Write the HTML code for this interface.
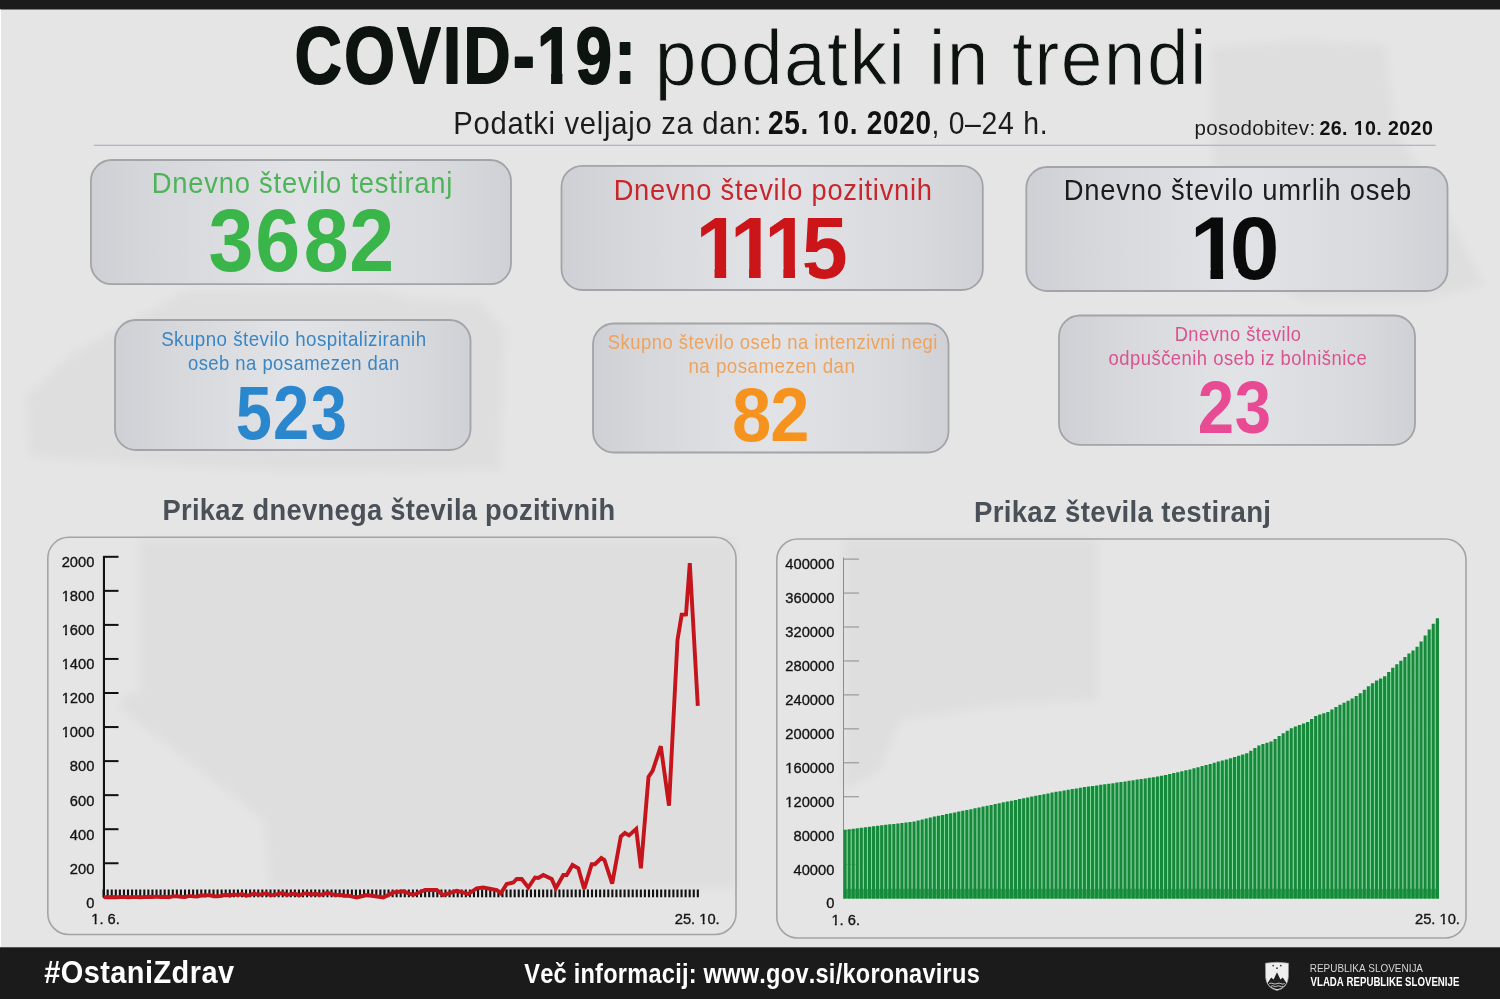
<!DOCTYPE html>
<html lang="sl"><head><meta charset="utf-8"><title>COVID-19: podatki in trendi</title>
<style>
html,body{margin:0;padding:0;background:#e5e5e5;}
body{width:1500px;height:999px;overflow:hidden;}
svg{display:block;font-family:'Liberation Sans', Arial, sans-serif;font-kerning:none;}
</style></head><body>
<svg width="1500" height="999" viewBox="0 0 1500 999">
<defs>
<filter id="blur" x="-5%" y="-5%" width="110%" height="110%"><feGaussianBlur stdDeviation="4"/></filter>
<clipPath id="nf1" clipPathUnits="userSpaceOnUse"><rect x="274.83" y="-13.05" width="383.55" height="86.05"/><rect x="274.83" y="86.40" width="383.55" height="80.38"/><rect x="274.83" y="72.90" width="264.15" height="13.60"/><rect x="551.11" y="72.90" width="11.23" height="13.60"/><rect x="573.65" y="72.90" width="84.74" height="13.60"/></clipPath>
<clipPath id="nf2" clipPathUnits="userSpaceOnUse"><rect x="747.93" y="95.10" width="203.91" height="34.48"/><rect x="747.93" y="136.10" width="203.91" height="32.50"/><rect x="747.93" y="129.48" width="70.01" height="6.72"/><rect x="823.75" y="129.48" width="4.14" height="6.72"/><rect x="833.36" y="129.48" width="118.48" height="6.72"/></clipPath>
<clipPath id="nf3" clipPathUnits="userSpaceOnUse"><rect x="1299.52" y="110.14" width="153.67" height="21.09"/><rect x="1299.52" y="136.50" width="153.67" height="20.30"/><rect x="1299.52" y="131.13" width="54.29" height="5.47"/><rect x="1358.20" y="131.13" width="2.99" height="5.47"/><rect x="1365.33" y="131.13" width="87.86" height="5.47"/></clipPath>
<linearGradient id="bx" x1="0" y1="0" x2="1" y2="0">
<stop offset="0" stop-color="#cfd0d5"/><stop offset="0.15" stop-color="#d6d7db"/><stop offset="0.5" stop-color="#e2e3e6"/><stop offset="0.85" stop-color="#d8d9dd"/><stop offset="1" stop-color="#d0d1d6"/>
</linearGradient>
<clipPath id="nf4" clipPathUnits="userSpaceOnUse"><rect x="0" y="164.13" width="1500" height="103.27"/><rect x="0.00" y="267.30" width="699.43" height="10.80"/><rect x="714.55" y="267.30" width="11.63" height="10.80"/><rect x="749.05" y="267.30" width="11.63" height="10.80"/><rect x="783.35" y="267.30" width="11.63" height="10.80"/><rect x="809.05" y="267.30" width="690.95" height="10.80"/><rect x="0" y="278.10" width="1500" height="87.21"/></clipPath>
<clipPath id="nf5" clipPathUnits="userSpaceOnUse"><rect x="0" y="163.07" width="1500" height="105.54"/><rect x="0.00" y="268.51" width="1194.20" height="10.99"/><rect x="1210.49" y="268.51" width="12.57" height="10.99"/><rect x="1238.23" y="268.51" width="261.77" height="10.99"/><rect x="0" y="279.50" width="1500" height="89.10"/></clipPath>
<clipPath id="nf6" clipPathUnits="userSpaceOnUse"><rect x="41.67" y="719.77" width="72.70" height="15.17"/><rect x="41.67" y="739.58" width="72.70" height="14.70"/><rect x="41.67" y="734.83" width="19.74" height="4.85"/><rect x="65.04" y="734.83" width="1.95" height="4.85"/><rect x="70.51" y="734.83" width="43.87" height="4.85"/></clipPath>
<clipPath id="nf7" clipPathUnits="userSpaceOnUse"><rect x="41.67" y="685.72" width="72.70" height="15.17"/><rect x="41.67" y="705.53" width="72.70" height="14.70"/><rect x="41.67" y="700.78" width="19.74" height="4.85"/><rect x="65.04" y="700.78" width="1.95" height="4.85"/><rect x="70.51" y="700.78" width="43.87" height="4.85"/></clipPath>
<clipPath id="nf8" clipPathUnits="userSpaceOnUse"><rect x="41.67" y="651.67" width="72.70" height="15.17"/><rect x="41.67" y="671.48" width="72.70" height="14.70"/><rect x="41.67" y="666.73" width="19.74" height="4.85"/><rect x="65.04" y="666.73" width="1.95" height="4.85"/><rect x="70.51" y="666.73" width="43.87" height="4.85"/></clipPath>
<clipPath id="nf9" clipPathUnits="userSpaceOnUse"><rect x="41.67" y="617.62" width="72.70" height="15.17"/><rect x="41.67" y="637.43" width="72.70" height="14.70"/><rect x="41.67" y="632.68" width="19.74" height="4.85"/><rect x="65.04" y="632.68" width="1.95" height="4.85"/><rect x="70.51" y="632.68" width="43.87" height="4.85"/></clipPath>
<clipPath id="nf10" clipPathUnits="userSpaceOnUse"><rect x="41.67" y="583.57" width="72.70" height="15.17"/><rect x="41.67" y="603.38" width="72.70" height="14.70"/><rect x="41.67" y="598.63" width="19.74" height="4.85"/><rect x="65.04" y="598.63" width="1.95" height="4.85"/><rect x="70.51" y="598.63" width="43.87" height="4.85"/></clipPath>
<clipPath id="nf11" clipPathUnits="userSpaceOnUse"><rect x="71.24" y="906.42" width="68.60" height="15.17"/><rect x="71.24" y="926.23" width="68.60" height="14.70"/><rect x="71.24" y="921.48" width="19.74" height="4.85"/><rect x="94.61" y="921.48" width="1.95" height="4.85"/><rect x="100.07" y="921.48" width="39.77" height="4.85"/></clipPath>
<clipPath id="nf12" clipPathUnits="userSpaceOnUse"><rect x="654.79" y="905.92" width="84.95" height="15.17"/><rect x="654.79" y="925.73" width="84.95" height="14.70"/><rect x="654.79" y="920.98" width="44.26" height="4.85"/><rect x="702.68" y="920.98" width="1.95" height="4.85"/><rect x="708.14" y="920.98" width="31.60" height="4.85"/></clipPath>
<clipPath id="nf13" clipPathUnits="userSpaceOnUse"><rect x="765.32" y="788.97" width="89.05" height="15.17"/><rect x="765.32" y="808.78" width="89.05" height="14.70"/><rect x="765.32" y="804.03" width="19.74" height="4.85"/><rect x="788.69" y="804.03" width="1.95" height="4.85"/><rect x="794.15" y="804.03" width="60.22" height="4.85"/></clipPath>
<clipPath id="nf14" clipPathUnits="userSpaceOnUse"><rect x="765.32" y="755.02" width="89.05" height="15.17"/><rect x="765.32" y="774.83" width="89.05" height="14.70"/><rect x="765.32" y="770.08" width="19.74" height="4.85"/><rect x="788.69" y="770.08" width="1.95" height="4.85"/><rect x="794.15" y="770.08" width="60.22" height="4.85"/></clipPath>
<clipPath id="nf15" clipPathUnits="userSpaceOnUse"><rect x="811.44" y="907.82" width="68.60" height="15.17"/><rect x="811.44" y="927.63" width="68.60" height="14.70"/><rect x="811.44" y="922.88" width="19.74" height="4.85"/><rect x="834.81" y="922.88" width="1.95" height="4.85"/><rect x="840.27" y="922.88" width="39.77" height="4.85"/></clipPath>
<clipPath id="nf16" clipPathUnits="userSpaceOnUse"><rect x="1394.99" y="906.82" width="84.95" height="15.17"/><rect x="1394.99" y="926.63" width="84.95" height="14.70"/><rect x="1394.99" y="921.88" width="44.26" height="4.85"/><rect x="1442.88" y="921.88" width="1.95" height="4.85"/><rect x="1448.34" y="921.88" width="31.60" height="4.85"/></clipPath>
</defs>
<rect x="0" y="0" width="1500" height="999" fill="#e5e5e5"/>
<g fill="#000" fill-opacity="0.03" filter="url(#blur)"><polygon points="27,406 25,398 74,353 165,303 186,291 372,290 413,299 480,302 505,330 500,470 300,472 110,462 30,456"/><polygon points="1211,48 1300,40 1385,45 1395,130 1440,200 1484,285 1420,300 1300,300 1215,250"/><polygon points="140,540 735,540 735,888 270,888 264,820 120,708 120,700 140,690"/><polygon points="844,540 1097,540 1097,700 1000,705 900,720 880,770 844,790"/></g>
<rect x="0" y="0" width="1500" height="9.5" fill="#1b1b1b"/>
<rect x="0" y="9.5" width="1" height="938" fill="#ffffff"/>
<rect x="0" y="947.3" width="1500" height="52" fill="#1b1b1b"/>
<text x="294.83" y="83.40" font-size="80.38" fill="#0d140f" font-weight="bold" letter-spacing="3.00" textLength="343.55" lengthAdjust="spacingAndGlyphs" stroke="#0d140f" stroke-width="2.0" stroke-linejoin="round" clip-path="url(#nf1)">COVID-19:</text>
<text x="654.67" y="84.50" font-size="78.50" fill="#0d140f" letter-spacing="1.50" textLength="553.51" lengthAdjust="spacingAndGlyphs" stroke="#e5e5e5" stroke-width="0.9" stroke-linejoin="round">podatki in trendi</text>
<text x="453.31" y="134.10" font-size="32.00" fill="#1c1c1c" letter-spacing="0.80" textLength="308.69" lengthAdjust="spacingAndGlyphs">Podatki veljajo za dan:</text>
<text x="767.93" y="134.10" font-size="32.50" fill="#111111" font-weight="bold" letter-spacing="0.80" textLength="163.91" lengthAdjust="spacingAndGlyphs" clip-path="url(#nf2)">25. 10. 2020</text>
<text x="931.45" y="134.10" font-size="32.00" fill="#1c1c1c" letter-spacing="0.80" textLength="116.85" lengthAdjust="spacingAndGlyphs">, 0–24 h.</text>
<text x="1194.38" y="134.50" font-size="20.30" fill="#1c1c1c" letter-spacing="0.40" textLength="121.20" lengthAdjust="spacingAndGlyphs">posodobitev:</text>
<text x="1319.52" y="134.50" font-size="20.30" fill="#111111" font-weight="bold" letter-spacing="0.40" textLength="113.67" lengthAdjust="spacingAndGlyphs" clip-path="url(#nf3)">26. 10. 2020</text>
<rect x="93.8" y="144.7" width="1341.7" height="1.2" fill="#a9b4bf"/>
<rect x="90.9" y="160.0" width="420.1" height="124.2" rx="21" ry="21" fill="url(#bx)" stroke="#a3a4a7" stroke-width="1.8"/>
<rect x="561.5" y="165.8" width="421.3" height="124.2" rx="21" ry="21" fill="url(#bx)" stroke="#a3a4a7" stroke-width="1.8"/>
<rect x="1026.3" y="167.0" width="421.2" height="124.0" rx="21" ry="21" fill="url(#bx)" stroke="#a3a4a7" stroke-width="1.8"/>
<rect x="115.0" y="320.0" width="355.5" height="130.0" rx="21" ry="21" fill="url(#bx)" stroke="#a3a4a7" stroke-width="1.8"/>
<rect x="593.0" y="323.5" width="355.5" height="129.0" rx="21" ry="21" fill="url(#bx)" stroke="#a3a4a7" stroke-width="1.8"/>
<rect x="1059.0" y="315.5" width="356.0" height="129.3" rx="21" ry="21" fill="url(#bx)" stroke="#a3a4a7" stroke-width="1.8"/>
<text x="151.75" y="193.40" font-size="29.20" fill="#4db45a" letter-spacing="0.80" textLength="301.35" lengthAdjust="spacingAndGlyphs">Dnevno število testiranj</text>
<text transform="translate(0 271.30) scale(0.9010 1)" x="231.47 283.19 337.16 387.66" y="0" font-size="89.68" font-weight="bold" fill="#3ab54a">3682</text>
<text x="613.66" y="199.50" font-size="29.20" fill="#c8262c" letter-spacing="0.80" textLength="319.06" lengthAdjust="spacingAndGlyphs">Dnevno število pozitivnih</text>
<g clip-path="url(#nf4)"><text transform="translate(0 277.50) scale(0.9469 1)" x="734.45 770.89 807.11 846.60" y="0" font-size="87.21" font-weight="bold" fill="#cc1518">1115</text></g>
<text x="1063.85" y="200.10" font-size="29.60" fill="#1c1c1c" letter-spacing="0.80" textLength="348.24" lengthAdjust="spacingAndGlyphs">Dnevno število umrlih oseb</text>
<g clip-path="url(#nf5)"><text transform="translate(0 278.90) scale(1.0039 1)" x="1185.12 1225.09" y="0" font-size="89.10" font-weight="bold" fill="#0a0a0a">10</text></g>
<text x="161.15" y="345.90" font-size="20.40" fill="#3a86c3" letter-spacing="0.50" textLength="265.43" lengthAdjust="spacingAndGlyphs">Skupno število hospitaliziranih</text>
<text x="187.92" y="370.40" font-size="20.40" fill="#3a86c3" letter-spacing="0.50" textLength="211.83" lengthAdjust="spacingAndGlyphs">oseb na posamezen dan</text>
<text transform="translate(0 438.50) scale(0.8574 1)" x="274.99 318.46 362.32" y="0" font-size="75.87" font-weight="bold" fill="#2b87cd">523</text>
<text x="607.86" y="349.10" font-size="20.80" fill="#eca35f" letter-spacing="0.50" textLength="330.03" lengthAdjust="spacingAndGlyphs">Skupno število oseb na intenzivni negi</text>
<text x="688.45" y="373.30" font-size="20.80" fill="#eca35f" letter-spacing="0.50" textLength="166.92" lengthAdjust="spacingAndGlyphs">na posamezen dan</text>
<text transform="translate(0 441.20) scale(0.9225 1)" x="793.58 835.02" y="0" font-size="76.45" font-weight="bold" fill="#f6931f">82</text>
<text x="1174.70" y="340.90" font-size="19.30" fill="#da5290" letter-spacing="0.50" textLength="126.64" lengthAdjust="spacingAndGlyphs">Dnevno število</text>
<text x="1108.53" y="364.80" font-size="19.30" fill="#da5290" letter-spacing="0.50" textLength="258.77" lengthAdjust="spacingAndGlyphs">odpuščenih oseb iz bolnišnice</text>
<text transform="translate(0 432.70) scale(0.8741 1)" x="1370.38 1412.71" y="0" font-size="74.71" font-weight="bold" fill="#e84a93">23</text>
<text x="162.57" y="519.60" font-size="29.20" fill="#4a5057" font-weight="bold" letter-spacing="0.30" textLength="452.80" lengthAdjust="spacingAndGlyphs">Prikaz dnevnega števila pozitivnih</text>
<text x="973.95" y="521.90" font-size="29.00" fill="#4a5057" font-weight="bold" letter-spacing="0.30" textLength="297.38" lengthAdjust="spacingAndGlyphs">Prikaz števila testiranj</text>
<rect x="47.8" y="537.3" width="688.2" height="397.2" rx="21" ry="21" fill="none" stroke="#a4a4a4" stroke-width="1.6"/>
<rect x="776.8" y="539.0" width="689.2" height="399.0" rx="21" ry="21" fill="none" stroke="#a4a4a4" stroke-width="1.6"/>
<text x="86.20" y="907.66" font-size="14.70" fill="#151515" stroke="#151515" stroke-width="0.35" stroke-linejoin="round">0</text>
<text x="69.85" y="873.61" font-size="14.70" fill="#151515" stroke="#151515" stroke-width="0.35" stroke-linejoin="round">200</text>
<rect x="103" y="862.25" width="15.5" height="2" fill="#111"/>
<text x="69.85" y="839.56" font-size="14.70" fill="#151515" stroke="#151515" stroke-width="0.35" stroke-linejoin="round">400</text>
<rect x="103" y="828.20" width="15.5" height="2" fill="#111"/>
<text x="69.85" y="805.51" font-size="14.70" fill="#151515" stroke="#151515" stroke-width="0.35" stroke-linejoin="round">600</text>
<rect x="103" y="794.15" width="15.5" height="2" fill="#111"/>
<text x="69.85" y="771.46" font-size="14.70" fill="#151515" stroke="#151515" stroke-width="0.35" stroke-linejoin="round">800</text>
<rect x="103" y="760.10" width="15.5" height="2" fill="#111"/>
<text x="61.67" y="737.41" font-size="14.70" fill="#151515" stroke="#151515" stroke-width="0.35" stroke-linejoin="round" clip-path="url(#nf6)">1000</text>
<rect x="103" y="726.05" width="15.5" height="2" fill="#111"/>
<text x="61.67" y="703.36" font-size="14.70" fill="#151515" stroke="#151515" stroke-width="0.35" stroke-linejoin="round" clip-path="url(#nf7)">1200</text>
<rect x="103" y="692.00" width="15.5" height="2" fill="#111"/>
<text x="61.67" y="669.31" font-size="14.70" fill="#151515" stroke="#151515" stroke-width="0.35" stroke-linejoin="round" clip-path="url(#nf8)">1400</text>
<rect x="103" y="657.95" width="15.5" height="2" fill="#111"/>
<text x="61.67" y="635.26" font-size="14.70" fill="#151515" stroke="#151515" stroke-width="0.35" stroke-linejoin="round" clip-path="url(#nf9)">1600</text>
<rect x="103" y="623.90" width="15.5" height="2" fill="#111"/>
<text x="61.67" y="601.21" font-size="14.70" fill="#151515" stroke="#151515" stroke-width="0.35" stroke-linejoin="round" clip-path="url(#nf10)">1800</text>
<rect x="103" y="589.85" width="15.5" height="2" fill="#111"/>
<text x="61.67" y="567.16" font-size="14.70" fill="#151515" stroke="#151515" stroke-width="0.35" stroke-linejoin="round">2000</text>
<rect x="103" y="555.80" width="15.5" height="2" fill="#111"/>
<rect x="102.9" y="556.3" width="2.1" height="341.6" fill="#111"/>
<path d="M103.60 889.6V897.3 M107.67 889.6V897.3 M111.74 889.6V897.3 M115.81 889.6V897.3 M119.88 889.6V897.3 M123.95 889.6V897.3 M128.02 889.6V897.3 M132.09 889.6V897.3 M136.16 889.6V897.3 M140.23 889.6V897.3 M144.30 889.6V897.3 M148.37 889.6V897.3 M152.44 889.6V897.3 M156.51 889.6V897.3 M160.58 889.6V897.3 M164.65 889.6V897.3 M168.72 889.6V897.3 M172.79 889.6V897.3 M176.86 889.6V897.3 M180.93 889.6V897.3 M185.00 889.6V897.3 M189.07 889.6V897.3 M193.14 889.6V897.3 M197.21 889.6V897.3 M201.28 889.6V897.3 M205.35 889.6V897.3 M209.42 889.6V897.3 M213.49 889.6V897.3 M217.56 889.6V897.3 M221.63 889.6V897.3 M225.70 889.6V897.3 M229.77 889.6V897.3 M233.84 889.6V897.3 M237.91 889.6V897.3 M241.98 889.6V897.3 M246.05 889.6V897.3 M250.12 889.6V897.3 M254.19 889.6V897.3 M258.26 889.6V897.3 M262.33 889.6V897.3 M266.40 889.6V897.3 M270.47 889.6V897.3 M274.54 889.6V897.3 M278.61 889.6V897.3 M282.68 889.6V897.3 M286.75 889.6V897.3 M290.82 889.6V897.3 M294.89 889.6V897.3 M298.96 889.6V897.3 M303.03 889.6V897.3 M307.10 889.6V897.3 M311.17 889.6V897.3 M315.24 889.6V897.3 M319.31 889.6V897.3 M323.38 889.6V897.3 M327.45 889.6V897.3 M331.52 889.6V897.3 M335.59 889.6V897.3 M339.66 889.6V897.3 M343.73 889.6V897.3 M347.80 889.6V897.3 M351.87 889.6V897.3 M355.94 889.6V897.3 M360.01 889.6V897.3 M364.08 889.6V897.3 M368.15 889.6V897.3 M372.22 889.6V897.3 M376.29 889.6V897.3 M380.36 889.6V897.3 M384.43 889.6V897.3 M388.50 889.6V897.3 M392.57 889.6V897.3 M396.64 889.6V897.3 M400.71 889.6V897.3 M404.78 889.6V897.3 M408.85 889.6V897.3 M412.92 889.6V897.3 M416.99 889.6V897.3 M421.06 889.6V897.3 M425.13 889.6V897.3 M429.20 889.6V897.3 M433.27 889.6V897.3 M437.34 889.6V897.3 M441.41 889.6V897.3 M445.48 889.6V897.3 M449.55 889.6V897.3 M453.62 889.6V897.3 M457.69 889.6V897.3 M461.76 889.6V897.3 M465.83 889.6V897.3 M469.90 889.6V897.3 M473.97 889.6V897.3 M478.04 889.6V897.3 M482.11 889.6V897.3 M486.18 889.6V897.3 M490.25 889.6V897.3 M494.32 889.6V897.3 M498.39 889.6V897.3 M502.46 889.6V897.3 M506.53 889.6V897.3 M510.60 889.6V897.3 M514.67 889.6V897.3 M518.74 889.6V897.3 M522.81 889.6V897.3 M526.88 889.6V897.3 M530.95 889.6V897.3 M535.02 889.6V897.3 M539.09 889.6V897.3 M543.16 889.6V897.3 M547.23 889.6V897.3 M551.30 889.6V897.3 M555.37 889.6V897.3 M559.44 889.6V897.3 M563.51 889.6V897.3 M567.58 889.6V897.3 M571.65 889.6V897.3 M575.72 889.6V897.3 M579.79 889.6V897.3 M583.86 889.6V897.3 M587.93 889.6V897.3 M592.00 889.6V897.3 M596.07 889.6V897.3 M600.14 889.6V897.3 M604.21 889.6V897.3 M608.28 889.6V897.3 M612.35 889.6V897.3 M616.42 889.6V897.3 M620.49 889.6V897.3 M624.56 889.6V897.3 M628.63 889.6V897.3 M632.70 889.6V897.3 M636.77 889.6V897.3 M640.84 889.6V897.3 M644.91 889.6V897.3 M648.98 889.6V897.3 M653.05 889.6V897.3 M657.12 889.6V897.3 M661.19 889.6V897.3 M665.26 889.6V897.3 M669.33 889.6V897.3 M673.40 889.6V897.3 M677.47 889.6V897.3 M681.54 889.6V897.3 M685.61 889.6V897.3 M689.68 889.6V897.3 M693.75 889.6V897.3 M697.82 889.6V897.3" stroke="#111" stroke-width="2.1"/>
<path d="M103.6 897.1 L107.7 897.3 L111.7 897.0 L115.8 897.3 L119.9 897.1 L123.9 896.8 L128.0 897.3 L132.1 897.1 L136.2 897.0 L140.2 897.3 L144.3 897.1 L148.4 896.8 L152.4 897.0 L156.5 896.6 L160.6 897.0 L164.7 896.8 L168.7 897.3 L172.8 896.4 L176.9 896.3 L180.9 896.8 L185.0 897.0 L189.1 895.9 L193.1 896.4 L197.2 896.6 L201.3 895.3 L205.3 895.6 L209.4 894.9 L213.5 896.3 L217.6 896.4 L221.6 895.9 L225.7 894.6 L229.8 895.6 L233.8 894.2 L237.9 895.3 L242.0 893.9 L246.1 895.8 L250.1 894.9 L254.2 893.6 L258.3 894.8 L262.3 894.2 L266.4 893.2 L270.5 895.3 L274.5 894.6 L278.6 893.9 L282.7 892.9 L286.8 894.9 L290.8 894.2 L294.9 893.6 L299.0 895.3 L303.0 893.9 L307.1 893.2 L311.2 894.6 L315.2 893.6 L319.3 894.9 L323.4 894.2 L327.5 892.9 L331.5 893.9 L335.6 895.3 L339.7 894.6 L343.7 895.9 L347.8 895.6 L356.7 897.5 L366.7 895.0 L383.3 897.5 L393.3 892.5 L403.3 891.3 L413.3 895.0 L425.0 890.0 L436.7 890.0 L443.3 895.0 L456.7 890.8 L468.3 894.0 L476.7 888.3 L483.3 887.5 L496.7 890.0 L500.8 893.3 L506.7 884.0 L513.3 882.5 L516.7 879.0 L521.7 879.0 L528.3 887.5 L535.0 877.5 L538.3 878.0 L543.3 875.0 L551.7 879.0 L555.8 888.3 L563.3 875.0 L566.7 875.0 L572.5 865.0 L578.3 868.3 L584.2 889.0 L591.7 864.2 L595.0 864.2 L601.3 858.0 L604.4 860.0 L612.2 883.7 L620.8 836.5 L624.9 833.0 L629.0 835.4 L636.2 828.9 L640.9 868.3 L648.5 777.0 L652.6 770.8 L660.8 746.2 L669.0 805.7 L677.5 640.0 L681.7 614.7 L686.0 614.4 L689.8 563.2 L697.8 705.8" fill="none" stroke="#c5141b" stroke-width="3.9" stroke-linejoin="miter" stroke-miterlimit="3" stroke-linecap="butt"/>
<text x="91.24" y="924.06" font-size="14.70" fill="#151515" stroke="#151515" stroke-width="0.35" stroke-linejoin="round" clip-path="url(#nf11)">1. 6.</text>
<text x="674.79" y="923.56" font-size="14.70" fill="#151515" stroke="#151515" stroke-width="0.35" stroke-linejoin="round" clip-path="url(#nf12)">25. 10.</text>
<text x="826.20" y="908.46" font-size="14.70" fill="#151515" stroke="#151515" stroke-width="0.35" stroke-linejoin="round">0</text>
<text x="793.50" y="874.51" font-size="14.70" fill="#151515" stroke="#151515" stroke-width="0.35" stroke-linejoin="round">40000</text>
<rect x="843" y="864.15" width="16" height="1" fill="#8c8c8c"/>
<text x="793.50" y="840.56" font-size="14.70" fill="#151515" stroke="#151515" stroke-width="0.35" stroke-linejoin="round">80000</text>
<rect x="843" y="830.20" width="16" height="1" fill="#8c8c8c"/>
<text x="785.32" y="806.61" font-size="14.70" fill="#151515" stroke="#151515" stroke-width="0.35" stroke-linejoin="round" clip-path="url(#nf13)">120000</text>
<rect x="843" y="796.25" width="16" height="1" fill="#8c8c8c"/>
<text x="785.32" y="772.66" font-size="14.70" fill="#151515" stroke="#151515" stroke-width="0.35" stroke-linejoin="round" clip-path="url(#nf14)">160000</text>
<rect x="843" y="762.30" width="16" height="1" fill="#8c8c8c"/>
<text x="785.32" y="738.71" font-size="14.70" fill="#151515" stroke="#151515" stroke-width="0.35" stroke-linejoin="round">200000</text>
<rect x="843" y="728.35" width="16" height="1" fill="#8c8c8c"/>
<text x="785.32" y="704.76" font-size="14.70" fill="#151515" stroke="#151515" stroke-width="0.35" stroke-linejoin="round">240000</text>
<rect x="843" y="694.40" width="16" height="1" fill="#8c8c8c"/>
<text x="785.32" y="670.81" font-size="14.70" fill="#151515" stroke="#151515" stroke-width="0.35" stroke-linejoin="round">280000</text>
<rect x="843" y="660.45" width="16" height="1" fill="#8c8c8c"/>
<text x="785.32" y="636.86" font-size="14.70" fill="#151515" stroke="#151515" stroke-width="0.35" stroke-linejoin="round">320000</text>
<rect x="843" y="626.50" width="16" height="1" fill="#8c8c8c"/>
<text x="785.32" y="602.91" font-size="14.70" fill="#151515" stroke="#151515" stroke-width="0.35" stroke-linejoin="round">360000</text>
<rect x="843" y="592.55" width="16" height="1" fill="#8c8c8c"/>
<text x="785.32" y="568.96" font-size="14.70" fill="#151515" stroke="#151515" stroke-width="0.35" stroke-linejoin="round">400000</text>
<rect x="843" y="558.60" width="16" height="1" fill="#8c8c8c"/>
<rect x="843" y="557.5" width="1" height="341.1" fill="#8c8c8c"/>
<rect x="843.6" y="888.6" width="595.4" height="10.0" fill="#3fa75c"/>
<path d="M846.60 829.7V888.6h1.056V829.7z M850.66 829.2V888.6h1.056V829.2z M854.71 828.7V888.6h1.056V828.7z M858.77 828.2V888.6h1.056V828.2z M862.82 827.7V888.6h1.056V827.7z M866.88 827.2V888.6h1.056V827.2z M870.94 826.7V888.6h1.056V826.7z M874.99 826.2V888.6h1.056V826.2z M879.05 825.7V888.6h1.056V825.7z M883.10 825.2V888.6h1.056V825.2z M887.16 824.8V888.6h1.056V824.8z M891.22 824.3V888.6h1.056V824.3z M895.27 823.9V888.6h1.056V823.9z M899.33 823.4V888.6h1.056V823.4z M903.38 823.0V888.6h1.056V823.0z M907.44 822.6V888.6h1.056V822.6z M911.50 822.1V888.6h1.056V822.1z M915.55 821.4V888.6h1.056V821.4z M919.61 820.4V888.6h1.056V820.4z M923.66 819.5V888.6h1.056V819.5z M927.72 818.5V888.6h1.056V818.5z M931.78 817.6V888.6h1.056V817.6z M935.83 816.6V888.6h1.056V816.6z M939.89 815.7V888.6h1.056V815.7z M943.94 814.9V888.6h1.056V814.9z M948.00 814.1V888.6h1.056V814.1z M952.06 813.3V888.6h1.056V813.3z M956.11 812.5V888.6h1.056V812.5z M960.17 811.6V888.6h1.056V811.6z M964.22 810.8V888.6h1.056V810.8z M968.28 810.0V888.6h1.056V810.0z M972.34 809.2V888.6h1.056V809.2z M976.39 808.3V888.6h1.056V808.3z M980.45 807.5V888.6h1.056V807.5z M984.50 806.6V888.6h1.056V806.6z M988.56 805.8V888.6h1.056V805.8z M992.62 804.9V888.6h1.056V804.9z M996.67 804.0V888.6h1.056V804.0z M1000.73 803.2V888.6h1.056V803.2z M1004.78 802.3V888.6h1.056V802.3z M1008.84 801.5V888.6h1.056V801.5z M1012.90 800.7V888.6h1.056V800.7z M1016.95 799.9V888.6h1.056V799.9z M1021.01 799.1V888.6h1.056V799.1z M1025.06 798.2V888.6h1.056V798.2z M1029.12 797.4V888.6h1.056V797.4z M1033.18 796.6V888.6h1.056V796.6z M1037.23 795.8V888.6h1.056V795.8z M1041.29 795.0V888.6h1.056V795.0z M1045.34 794.2V888.6h1.056V794.2z M1049.40 793.4V888.6h1.056V793.4z M1053.46 792.6V888.6h1.056V792.6z M1057.51 791.8V888.6h1.056V791.8z M1061.57 791.2V888.6h1.056V791.2z M1065.62 790.5V888.6h1.056V790.5z M1069.68 789.8V888.6h1.056V789.8z M1073.74 789.1V888.6h1.056V789.1z M1077.79 788.4V888.6h1.056V788.4z M1081.85 787.8V888.6h1.056V787.8z M1085.90 787.1V888.6h1.056V787.1z M1089.96 786.5V888.6h1.056V786.5z M1094.02 785.9V888.6h1.056V785.9z M1098.07 785.4V888.6h1.056V785.4z M1102.13 784.8V888.6h1.056V784.8z M1106.18 784.3V888.6h1.056V784.3z M1110.24 783.7V888.6h1.056V783.7z M1114.30 783.2V888.6h1.056V783.2z M1118.35 782.6V888.6h1.056V782.6z M1122.41 782.0V888.6h1.056V782.0z M1126.46 781.4V888.6h1.056V781.4z M1130.52 780.8V888.6h1.056V780.8z M1134.58 780.2V888.6h1.056V780.2z M1138.63 779.6V888.6h1.056V779.6z M1142.69 779.0V888.6h1.056V779.0z M1146.74 778.4V888.6h1.056V778.4z M1150.80 777.8V888.6h1.056V777.8z M1154.86 777.2V888.6h1.056V777.2z M1158.91 776.6V888.6h1.056V776.6z M1162.97 775.7V888.6h1.056V775.7z M1167.02 774.9V888.6h1.056V774.9z M1171.08 774.0V888.6h1.056V774.0z M1175.14 773.1V888.6h1.056V773.1z M1179.19 772.2V888.6h1.056V772.2z M1183.25 771.2V888.6h1.056V771.2z M1187.30 770.3V888.6h1.056V770.3z M1191.36 769.4V888.6h1.056V769.4z M1195.42 768.3V888.6h1.056V768.3z M1199.47 767.2V888.6h1.056V767.2z M1203.53 766.1V888.6h1.056V766.1z M1207.58 765.0V888.6h1.056V765.0z M1211.64 763.9V888.6h1.056V763.9z M1215.70 762.8V888.6h1.056V762.8z M1219.75 761.6V888.6h1.056V761.6z M1223.81 760.5V888.6h1.056V760.5z M1227.86 759.4V888.6h1.056V759.4z M1231.92 758.3V888.6h1.056V758.3z M1235.98 757.0V888.6h1.056V757.0z M1240.03 755.7V888.6h1.056V755.7z M1244.09 754.5V888.6h1.056V754.5z M1248.14 753.2V888.6h1.056V753.2z M1252.20 750.8V888.6h1.056V750.8z M1256.26 748.1V888.6h1.056V748.1z M1260.31 745.4V888.6h1.056V745.4z M1264.37 744.0V888.6h1.056V744.0z M1268.42 742.8V888.6h1.056V742.8z M1272.48 741.6V888.6h1.056V741.6z M1276.54 738.9V888.6h1.056V738.9z M1280.59 736.1V888.6h1.056V736.1z M1284.65 733.2V888.6h1.056V733.2z M1288.70 730.7V888.6h1.056V730.7z M1292.76 728.2V888.6h1.056V728.2z M1296.82 726.5V888.6h1.056V726.5z M1300.87 725.0V888.6h1.056V725.0z M1304.93 723.4V888.6h1.056V723.4z M1308.98 721.9V888.6h1.056V721.9z M1313.04 718.9V888.6h1.056V718.9z M1317.10 715.9V888.6h1.056V715.9z M1321.15 714.6V888.6h1.056V714.6z M1325.21 713.2V888.6h1.056V713.2z M1329.26 711.9V888.6h1.056V711.9z M1333.32 709.5V888.6h1.056V709.5z M1337.38 707.0V888.6h1.056V707.0z M1341.43 704.7V888.6h1.056V704.7z M1345.49 702.7V888.6h1.056V702.7z M1349.54 700.7V888.6h1.056V700.7z M1353.60 698.6V888.6h1.056V698.6z M1357.66 696.0V888.6h1.056V696.0z M1361.71 693.2V888.6h1.056V693.2z M1365.77 689.7V888.6h1.056V689.7z M1369.82 686.3V888.6h1.056V686.3z M1373.88 683.3V888.6h1.056V683.3z M1377.94 680.5V888.6h1.056V680.5z M1381.99 678.4V888.6h1.056V678.4z M1386.05 676.3V888.6h1.056V676.3z M1390.10 672.1V888.6h1.056V672.1z M1394.16 667.7V888.6h1.056V667.7z M1398.22 664.3V888.6h1.056V664.3z M1402.27 660.7V888.6h1.056V660.7z M1406.33 657.0V888.6h1.056V657.0z M1410.38 653.6V888.6h1.056V653.6z M1414.44 650.6V888.6h1.056V650.6z M1418.50 646.8V888.6h1.056V646.8z M1422.55 641.4V888.6h1.056V641.4z M1426.61 635.4V888.6h1.056V635.4z M1430.66 629.4V888.6h1.056V629.4z M1434.72 623.8V888.6h1.056V623.8z" fill="#80d99b"/>
<path d="M843.60 898.6V829.7h3.05V898.6z M847.66 898.6V829.2h3.05V898.6z M851.71 898.6V828.7h3.05V898.6z M855.77 898.6V828.2h3.05V898.6z M859.82 898.6V827.7h3.05V898.6z M863.88 898.6V827.2h3.05V898.6z M867.94 898.6V826.7h3.05V898.6z M871.99 898.6V826.2h3.05V898.6z M876.05 898.6V825.7h3.05V898.6z M880.10 898.6V825.2h3.05V898.6z M884.16 898.6V824.8h3.05V898.6z M888.22 898.6V824.3h3.05V898.6z M892.27 898.6V823.9h3.05V898.6z M896.33 898.6V823.4h3.05V898.6z M900.38 898.6V823.0h3.05V898.6z M904.44 898.6V822.6h3.05V898.6z M908.50 898.6V822.1h3.05V898.6z M912.55 898.6V821.4h3.05V898.6z M916.61 898.6V820.4h3.05V898.6z M920.66 898.6V819.5h3.05V898.6z M924.72 898.6V818.5h3.05V898.6z M928.78 898.6V817.6h3.05V898.6z M932.83 898.6V816.6h3.05V898.6z M936.89 898.6V815.7h3.05V898.6z M940.94 898.6V814.9h3.05V898.6z M945.00 898.6V814.1h3.05V898.6z M949.06 898.6V813.3h3.05V898.6z M953.11 898.6V812.5h3.05V898.6z M957.17 898.6V811.6h3.05V898.6z M961.22 898.6V810.8h3.05V898.6z M965.28 898.6V810.0h3.05V898.6z M969.34 898.6V809.2h3.05V898.6z M973.39 898.6V808.3h3.05V898.6z M977.45 898.6V807.5h3.05V898.6z M981.50 898.6V806.6h3.05V898.6z M985.56 898.6V805.8h3.05V898.6z M989.62 898.6V804.9h3.05V898.6z M993.67 898.6V804.0h3.05V898.6z M997.73 898.6V803.2h3.05V898.6z M1001.78 898.6V802.3h3.05V898.6z M1005.84 898.6V801.5h3.05V898.6z M1009.90 898.6V800.7h3.05V898.6z M1013.95 898.6V799.9h3.05V898.6z M1018.01 898.6V799.1h3.05V898.6z M1022.06 898.6V798.2h3.05V898.6z M1026.12 898.6V797.4h3.05V898.6z M1030.18 898.6V796.6h3.05V898.6z M1034.23 898.6V795.8h3.05V898.6z M1038.29 898.6V795.0h3.05V898.6z M1042.34 898.6V794.2h3.05V898.6z M1046.40 898.6V793.4h3.05V898.6z M1050.46 898.6V792.6h3.05V898.6z M1054.51 898.6V791.8h3.05V898.6z M1058.57 898.6V791.2h3.05V898.6z M1062.62 898.6V790.5h3.05V898.6z M1066.68 898.6V789.8h3.05V898.6z M1070.74 898.6V789.1h3.05V898.6z M1074.79 898.6V788.4h3.05V898.6z M1078.85 898.6V787.8h3.05V898.6z M1082.90 898.6V787.1h3.05V898.6z M1086.96 898.6V786.5h3.05V898.6z M1091.02 898.6V785.9h3.05V898.6z M1095.07 898.6V785.4h3.05V898.6z M1099.13 898.6V784.8h3.05V898.6z M1103.18 898.6V784.3h3.05V898.6z M1107.24 898.6V783.7h3.05V898.6z M1111.30 898.6V783.2h3.05V898.6z M1115.35 898.6V782.6h3.05V898.6z M1119.41 898.6V782.0h3.05V898.6z M1123.46 898.6V781.4h3.05V898.6z M1127.52 898.6V780.8h3.05V898.6z M1131.58 898.6V780.2h3.05V898.6z M1135.63 898.6V779.6h3.05V898.6z M1139.69 898.6V779.0h3.05V898.6z M1143.74 898.6V778.4h3.05V898.6z M1147.80 898.6V777.8h3.05V898.6z M1151.86 898.6V777.2h3.05V898.6z M1155.91 898.6V776.6h3.05V898.6z M1159.97 898.6V775.7h3.05V898.6z M1164.02 898.6V774.9h3.05V898.6z M1168.08 898.6V774.0h3.05V898.6z M1172.14 898.6V773.1h3.05V898.6z M1176.19 898.6V772.2h3.05V898.6z M1180.25 898.6V771.2h3.05V898.6z M1184.30 898.6V770.3h3.05V898.6z M1188.36 898.6V769.4h3.05V898.6z M1192.42 898.6V768.3h3.05V898.6z M1196.47 898.6V767.2h3.05V898.6z M1200.53 898.6V766.1h3.05V898.6z M1204.58 898.6V765.0h3.05V898.6z M1208.64 898.6V763.9h3.05V898.6z M1212.70 898.6V762.8h3.05V898.6z M1216.75 898.6V761.6h3.05V898.6z M1220.81 898.6V760.5h3.05V898.6z M1224.86 898.6V759.4h3.05V898.6z M1228.92 898.6V758.3h3.05V898.6z M1232.98 898.6V757.0h3.05V898.6z M1237.03 898.6V755.7h3.05V898.6z M1241.09 898.6V754.5h3.05V898.6z M1245.14 898.6V753.2h3.05V898.6z M1249.20 898.6V750.8h3.05V898.6z M1253.26 898.6V748.1h3.05V898.6z M1257.31 898.6V745.4h3.05V898.6z M1261.37 898.6V744.0h3.05V898.6z M1265.42 898.6V742.8h3.05V898.6z M1269.48 898.6V741.6h3.05V898.6z M1273.54 898.6V738.9h3.05V898.6z M1277.59 898.6V736.1h3.05V898.6z M1281.65 898.6V733.2h3.05V898.6z M1285.70 898.6V730.7h3.05V898.6z M1289.76 898.6V728.2h3.05V898.6z M1293.82 898.6V726.5h3.05V898.6z M1297.87 898.6V725.0h3.05V898.6z M1301.93 898.6V723.4h3.05V898.6z M1305.98 898.6V721.9h3.05V898.6z M1310.04 898.6V718.9h3.05V898.6z M1314.10 898.6V715.9h3.05V898.6z M1318.15 898.6V714.6h3.05V898.6z M1322.21 898.6V713.2h3.05V898.6z M1326.26 898.6V711.9h3.05V898.6z M1330.32 898.6V709.5h3.05V898.6z M1334.38 898.6V707.0h3.05V898.6z M1338.43 898.6V704.7h3.05V898.6z M1342.49 898.6V702.7h3.05V898.6z M1346.54 898.6V700.7h3.05V898.6z M1350.60 898.6V698.6h3.05V898.6z M1354.66 898.6V696.0h3.05V898.6z M1358.71 898.6V693.2h3.05V898.6z M1362.77 898.6V689.7h3.05V898.6z M1366.82 898.6V686.3h3.05V898.6z M1370.88 898.6V683.3h3.05V898.6z M1374.94 898.6V680.5h3.05V898.6z M1378.99 898.6V678.4h3.05V898.6z M1383.05 898.6V676.3h3.05V898.6z M1387.10 898.6V672.1h3.05V898.6z M1391.16 898.6V667.7h3.05V898.6z M1395.22 898.6V664.3h3.05V898.6z M1399.27 898.6V660.7h3.05V898.6z M1403.33 898.6V657.0h3.05V898.6z M1407.38 898.6V653.6h3.05V898.6z M1411.44 898.6V650.6h3.05V898.6z M1415.50 898.6V646.8h3.05V898.6z M1419.55 898.6V641.4h3.05V898.6z M1423.61 898.6V635.4h3.05V898.6z M1427.66 898.6V629.4h3.05V898.6z M1431.72 898.6V623.8h3.05V898.6z M1435.78 898.6V618.2h3.2V898.6z" fill="#168a3b"/>
<text x="831.44" y="925.46" font-size="14.70" fill="#151515" stroke="#151515" stroke-width="0.35" stroke-linejoin="round" clip-path="url(#nf15)">1. 6.</text>
<text x="1414.99" y="924.46" font-size="14.70" fill="#151515" stroke="#151515" stroke-width="0.35" stroke-linejoin="round" clip-path="url(#nf16)">25. 10.</text>
<text x="44.21" y="982.60" font-size="32.00" fill="#ffffff" font-weight="bold" letter-spacing="0.50" textLength="190.27" lengthAdjust="spacingAndGlyphs">#OstaniZdrav</text>
<text x="524.24" y="983.00" font-size="28.30" fill="#ffffff" font-weight="bold" letter-spacing="0.30" textLength="455.78" lengthAdjust="spacingAndGlyphs">Več informacij: www.gov.si/koronavirus</text>
<path d="M1265.4 963.2 Q1277 961.2 1288.6 963.2 L1288.4 977.5 Q1287.6 987.8 1277 990.6 Q1266.4 987.8 1265.6 977.5 Z" fill="#efefef" stroke="#9a9a9a" stroke-width="0.6"/>
<path d="M1267.6 983 L1271.2 977.5 L1273.6 979.5 L1277 972.2 L1280.4 979.5 L1282.8 977.5 L1286.4 983 Q1283.5 988.3 1277 989.2 Q1270.5 988.3 1267.6 983 Z" fill="#202020"/>
<path d="M1269.3 983.6 Q1271.2 982.6 1273.1 983.6 T1277 983.6 T1280.9 983.6 T1284.7 983.6 M1271 986.2 Q1272.5 985.3 1274 986.2 T1277 986.2 T1280 986.2 T1283 986.2" stroke="#efefef" stroke-width="0.8" fill="none"/>
<g fill="#3a3a3a"><circle cx="1273.2" cy="965.6" r="0.9"/><circle cx="1280.8" cy="965.6" r="0.9"/><circle cx="1277" cy="968.2" r="0.9"/></g>
<text x="1309.78" y="971.80" font-size="11.20" fill="#d6d6d6" textLength="113.23" lengthAdjust="spacingAndGlyphs">REPUBLIKA SLOVENIJA</text>
<text x="1310.53" y="985.60" font-size="12.00" fill="#ffffff" font-weight="bold" textLength="148.84" lengthAdjust="spacingAndGlyphs">VLADA REPUBLIKE SLOVENIJE</text>
</svg>
</body></html>
